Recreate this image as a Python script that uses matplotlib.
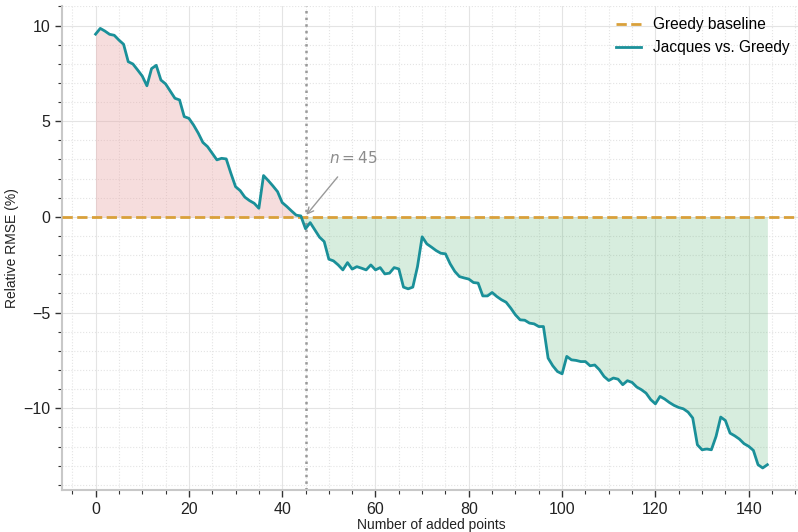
import matplotlib
matplotlib.use("Agg")
import matplotlib.pyplot as plt
import numpy as np
from matplotlib.ticker import MultipleLocator

plt.rcParams['font.family'] = ['Liberation Sans', 'DejaVu Sans']

# relative RMSE (%) of Jacques vs. Greedy, one value per added point
rel_rmse = [
    9.55, 9.85, 9.71, 9.54, 9.49, 9.24, 9.02, 8.11, 7.99, 7.68,
    7.36, 6.85, 7.75, 7.92, 7.15, 6.95, 6.58, 6.20, 6.11, 5.24,
    5.15, 4.80, 4.38, 3.89, 3.67, 3.32, 2.98, 3.06, 3.03, 2.28,
    1.58, 1.37, 1.03, 0.85, 0.71, 0.45, 2.16, 1.90, 1.62, 1.32,
    0.75, 0.54, 0.31, 0.09, 0.05, -0.62, -0.30, -0.68, -1.06, -1.29,
    -2.21, -2.30, -2.51, -2.77, -2.39, -2.73, -2.60, -2.68, -2.77, -2.51,
    -2.77, -2.65, -2.98, -2.94, -2.65, -2.72, -3.67, -3.76, -3.67, -2.60,
    -1.04, -1.41, -1.58, -1.76, -1.90, -1.93, -2.45, -2.85, -3.12, -3.19,
    -3.25, -3.43, -3.46, -4.13, -4.13, -3.95, -4.16, -4.33, -4.46, -4.77,
    -5.12, -5.38, -5.40, -5.55, -5.59, -5.73, -5.73, -7.38, -7.78, -8.08,
    -8.20, -7.29, -7.47, -7.50, -7.56, -7.56, -7.78, -7.74, -7.99, -8.34,
    -8.55, -8.42, -8.48, -8.77, -8.56, -8.65, -8.89, -9.03, -9.21, -9.55,
    -9.77, -9.38, -9.52, -9.70, -9.85, -9.96, -10.03, -10.20, -10.51, -11.91,
    -12.17, -12.13, -12.17, -11.47, -10.46, -10.64, -11.30, -11.44, -11.61, -11.85,
    -11.99, -12.20, -12.95, -13.12, -12.95,
]
n_points = np.arange(len(rel_rmse))
crossover = 45

y = np.array(rel_rmse)

fig = plt.figure(figsize=(7.98, 5.32), dpi=100)
ax = fig.add_axes([0.0777, 0.079, 0.926, 0.909])

ax.fill_between(n_points, y, 0, where=y >= 0, interpolate=True,
                color='#e8a0a0', alpha=0.35, lw=0)
ax.fill_between(n_points, y, 0, where=y <= 0, interpolate=True,
                color='#4caf6a', alpha=0.22, lw=0)

ax.axhline(0, color='#d9a03a', ls='--', lw=2, label='Greedy baseline', zorder=3)
ax.plot(n_points, y, color='#1a9099', lw=2, label='Jacques vs. Greedy', zorder=4)
ax.axvline(crossover, color='#999999', ls=':', lw=1.8, zorder=2)

ax.annotate(f'$n = {crossover}$', xy=(crossover, 0.05), xytext=(55.3, 3.1),
            ha='center', va='center', fontsize=11, color='#8c8c8c',
            arrowprops=dict(arrowstyle='->', color='#999999', lw=1,
                            shrinkA=8, shrinkB=1))

ax.set_xlim(-7.2, 151.2)
ax.set_ylim(-14.27, 11.0)
ax.xaxis.set_major_locator(MultipleLocator(20))
ax.xaxis.set_minor_locator(MultipleLocator(5))
ax.yaxis.set_major_locator(MultipleLocator(5))
ax.yaxis.set_minor_locator(MultipleLocator(1))

ax.grid(which='major', color='#e4e4e4', lw=0.8, ls='-')
ax.grid(which='minor', color='#e4e4e4', lw=0.8, ls=':')
ax.set_axisbelow(True)

for side in ['top', 'right']:
    ax.spines[side].set_visible(False)
for side in ['left', 'bottom']:
    ax.spines[side].set_color('#c8c8c8')
    ax.spines[side].set_linewidth(1.5)

ax.tick_params(which='major', length=5, width=1, color='#333333',
               labelsize=11.5, labelcolor='#222222')
ax.tick_params(which='minor', length=3, width=0.8, color='#333333')

ax.set_xlabel('Number of added points', fontsize=10, color='#222222', labelpad=1)
ax.set_ylabel('Relative RMSE (%)', fontsize=10, color='#222222', labelpad=3)

ax.legend(loc='upper right', frameon=False, fontsize=11.2, handlelength=1.6,
          borderaxespad=0.3)

fig.savefig('out.png', dpi=100)
